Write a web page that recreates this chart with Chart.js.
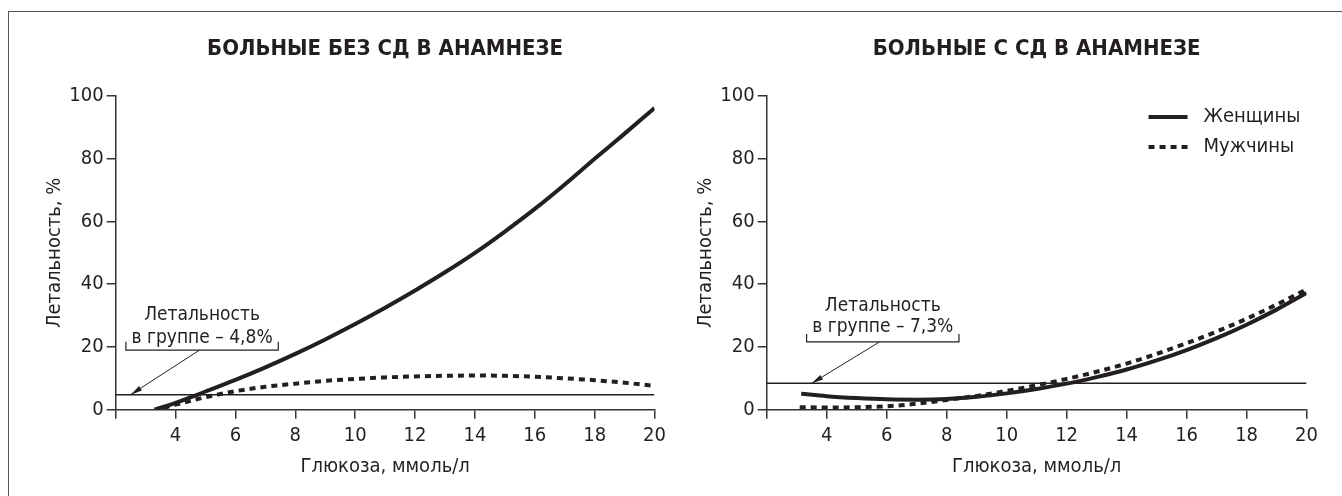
<!DOCTYPE html>
<html>
<head>
<meta charset="utf-8">
<script src="https://cdn.jsdelivr.net/npm/chart.js@4.4.1/dist/chart.umd.min.js"></script>
<style>
  html, body { margin: 0; padding: 0; background: #fff; }
  body { width: 1342px; height: 496px; position: relative; overflow: hidden; }
  .frame { position: absolute; left: 8px; top: 11px; width: 1400px; height: 600px;
           border-left: 1px solid #555; border-top: 1px solid #555; }
  .box { position: absolute; top: 0; height: 496px; }
  #boxLeft { left: 0; width: 671px; }
  #boxRight { left: 651px; width: 672px; }
</style>
</head>
<body>
<div class="frame"></div>
<div class="box" id="boxLeft"><canvas id="chartLeft"></canvas></div>
<div class="box" id="boxRight"><canvas id="chartRight"></canvas></div>
<script>
// --- data ---
const seriesNames = ['Женщины', 'Мужчины'];
const xTicks = [2, 4, 6, 8, 10, 12, 14, 16, 18, 20];
const xTickLabels = ['', '4', '6', '8', '10', '12', '14', '16', '18', '20'];
const yTicks = [0, 20, 40, 60, 80, 100];

// без СД
const noDmWomenX = [3.3, 4, 5, 6, 7, 8, 9, 10, 11, 12, 13, 14, 15, 16, 17, 18, 19, 20];
const noDmWomenY = [0, 2.2, 5.8, 9.5, 13.5, 17.8, 22.4, 27.3, 32.5, 38.0, 43.8, 50.0, 56.8, 64.0, 71.8, 80.0, 88.0, 96.2];
const noDmMenX = [3.6, 4, 5, 6, 7, 8, 9, 10, 11, 12, 13, 14, 15, 16, 17, 18, 19, 20];
const noDmMenY = [0.6, 1.6, 4.0, 5.9, 7.3, 8.3, 9.2, 9.8, 10.3, 10.6, 10.8, 10.9, 10.8, 10.5, 10.0, 9.4, 8.6, 7.6];
const noDmGroupLevel = 4.8;

// с СД
const dmWomenX = [3.15, 4, 5, 6, 7, 8, 9, 10, 11, 12, 13, 14, 15, 16, 17, 18, 19, 20];
const dmWomenY = [5.1, 4.3, 3.7, 3.3, 3.2, 3.4, 4.1, 5.2, 6.6, 8.3, 10.4, 12.8, 15.7, 19.0, 22.8, 27.1, 31.9, 37.2];
const dmMenX = [3.1, 4, 5, 6, 7, 8, 9, 10, 11, 12, 13, 14, 15, 16, 17, 18, 19, 20];
const dmMenY = [0.8, 0.7, 0.8, 1.1, 1.9, 3.1, 4.4, 6.0, 7.8, 9.8, 12.1, 14.7, 17.8, 21.2, 24.9, 29.0, 33.5, 38.4];
const dmGroupLevel = 8.4;

const ink = '#231f20';
const axisInk = '#333';
const fontFamily = "'Liberation Sans Narrow', 'DejaVu Sans Condensed', 'Liberation Sans', sans-serif";
Chart.defaults.font.family = fontFamily;
Chart.defaults.color = ink;

const toPoints = (xs, ys) => xs.map((x, i) => ({ x: x, y: ys[i] }));

function curve(label, xs, ys, dashed) {
  return {
    label: label,
    data: toPoints(xs, ys),
    borderColor: ink,
    borderWidth: 4,
    borderDash: dashed ? [6, 5] : [],
    borderCapStyle: 'butt',
    pointRadius: 0,
    tension: 0.4,
    cubicInterpolationMode: 'monotone',
    showLine: true,
    fill: false
  };
}

function levelLine(level) {
  return {
    label: 'level',
    data: [{ x: xTicks[0], y: level }, { x: xTicks[xTicks.length - 1], y: level }],
    borderColor: ink,
    borderWidth: 1.5,
    pointRadius: 0,
    showLine: true,
    fill: false
  };
}

// bracket + arrow + two lines of text
const groupNote = {
  id: 'groupNote',
  afterDatasetsDraw(chart, args, o) {
    if (!o || !o.text) return;
    const { ctx } = chart;
    const sx = chart.scales.x, sy = chart.scales.y;
    const x0 = sx.getPixelForValue(o.from), x1 = sx.getPixelForValue(o.to);
    const yb = sy.getPixelForValue(o.base), yt = sy.getPixelForValue(o.tip);
    ctx.save();
    ctx.strokeStyle = ink;
    ctx.fillStyle = ink;
    ctx.lineWidth = 1.2;
    ctx.beginPath();
    ctx.moveTo(x0, yt); ctx.lineTo(x0, yb); ctx.lineTo(x1, yb); ctx.lineTo(x1, yt);
    ctx.stroke();

    const ax = sx.getPixelForValue(o.arrowX0), ay = sy.getPixelForValue(o.base);
    const bx = sx.getPixelForValue(o.arrowX1), by = sy.getPixelForValue(o.arrowY1);
    const ang = Math.atan2(by - ay, bx - ax);
    ctx.lineWidth = 1;
    ctx.beginPath(); ctx.moveTo(ax, ay); ctx.lineTo(bx, by); ctx.stroke();
    ctx.beginPath();
    ctx.moveTo(bx, by);
    ctx.lineTo(bx - 12 * Math.cos(ang - 0.22), by - 12 * Math.sin(ang - 0.22));
    ctx.lineTo(bx - 12 * Math.cos(ang + 0.22), by - 12 * Math.sin(ang + 0.22));
    ctx.closePath(); ctx.fill();

    ctx.font = '19px ' + fontFamily;
    ctx.textAlign = 'center';
    ctx.textBaseline = 'middle';
    const cx = (x0 + x1) / 2;
    ctx.fillText(o.text[0], cx, sy.getPixelForValue(o.textY0));
    ctx.fillText(o.text[1], cx, sy.getPixelForValue(o.textY1));
    ctx.restore();
  }
};

const lineKey = {
  id: 'lineKey',
  afterDraw(chart, args, o) {
    if (!o || !o.show) return;
    const { ctx, chartArea } = chart;
    ctx.save();
    ctx.font = '20px ' + fontFamily;
    ctx.textBaseline = 'middle';
    ctx.fillStyle = ink;
    chart.data.datasets.filter(d => d.label !== 'level').forEach((d, i) => {
      const y = chartArea.top + 21 + i * 30;
      const x = chartArea.right - 158;
      ctx.strokeStyle = ink;
      ctx.lineWidth = 4;
      ctx.setLineDash(d.borderDash);
      ctx.beginPath(); ctx.moveTo(x, y); ctx.lineTo(x + 39, y); ctx.stroke();
      ctx.setLineDash([]);
      ctx.fillText(d.label, x + 55, y);
    });
    ctx.restore();
  }
};

function axisCommon() {
  return {
    grid: { drawOnChartArea: false, drawTicks: true, tickLength: 9, color: axisInk, lineWidth: 1.5 },
    border: { display: true, color: axisInk, width: 1.5 }
  };
}

function makeChart(id, title, datasets, note, showKey) {
  return new Chart(document.getElementById(id), {
    type: 'scatter',
    data: { datasets: datasets },
    options: {
      responsive: true,
      maintainAspectRatio: false,
      animation: false,
      layout: { padding: { left: 0, right: 13.3, top: 0, bottom: 0 } },
      scales: {
        x: Object.assign(axisCommon(), {
          type: 'linear', min: xTicks[0], max: xTicks[xTicks.length - 1],
          afterBuildTicks: s => { s.ticks = xTicks.map(v => ({ value: v })); },
          ticks: { autoSkip: false, maxRotation: 0, padding: 5, color: ink, font: { size: 20 },
                   callback: (v) => xTickLabels[xTicks.indexOf(v)] },
          title: { display: true, text: 'Глюкоза, ммоль/л', color: ink, font: { size: 20 },
                   padding: { top: 0, bottom: 17 } },
          afterFit: s => { s.height = 86.3; }
        }),
        y: Object.assign(axisCommon(), {
          type: 'linear', min: yTicks[0], max: yTicks[yTicks.length - 1],
          afterBuildTicks: s => { s.ticks = yTicks.map(v => ({ value: v })); },
          ticks: { padding: 3, color: ink, font: { size: 20 } },
          title: { display: true, text: 'Летальность, %', color: ink, font: { size: 20 },
                   padding: { top: 43, bottom: 0 } },
          afterFit: s => { s.width = 115.7; }
        })
      },
      plugins: {
        legend: { display: false },
        tooltip: { enabled: false },
        title: {
          display: true, text: title, fullSize: false, color: ink,
          font: { size: 22, weight: 'bold' },
          padding: { top: 35.8, bottom: 33.8 }
        },
        groupNote: note,
        lineKey: { show: showKey }
      }
    },
    plugins: [groupNote, lineKey]
  });
}

makeChart('chartLeft', 'БОЛЬНЫЕ БЕЗ СД В АНАМНЕЗЕ', [
  levelLine(noDmGroupLevel),
  curve(seriesNames[0], noDmWomenX, noDmWomenY, false),
  curve(seriesNames[1], noDmMenX, noDmMenY, true)
], {
  text: ['Летальность', 'в группе – 4,8%'],
  from: 2.34, to: 7.43, base: 19.0, tip: 21.7,
  arrowX0: 4.8, arrowX1: 2.5, arrowY1: noDmGroupLevel,
  textY0: 30.2, textY1: 22.9
}, false);

makeChart('chartRight', 'БОЛЬНЫЕ С СД В АНАМНЕЗЕ', [
  levelLine(dmGroupLevel),
  curve(seriesNames[0], dmWomenX, dmWomenY, false),
  curve(seriesNames[1], dmMenX, dmMenY, true)
], {
  text: ['Летальность', 'в группе – 7,3%'],
  from: 3.33, to: 8.41, base: 21.6, tip: 24.1,
  arrowX0: 5.76, arrowX1: 3.5, arrowY1: dmGroupLevel,
  textY0: 33.0, textY1: 26.3
}, true);
</script>
</body>
</html>
